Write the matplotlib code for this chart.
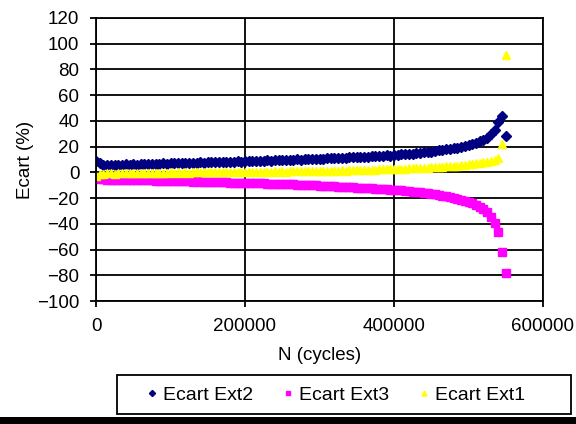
import numpy as np
import matplotlib.pyplot as plt
from matplotlib.patches import Rectangle

plt.rcParams['font.family'] = ['Liberation Sans', 'DejaVu Sans']

# cycles
n_cycles = [0, 5000, 10000, 15000, 20000, 25000, 30000, 35000, 40000, 45000,
            50000, 55000, 60000, 65000, 70000, 75000, 80000, 85000, 90000, 95000,
            100000, 105000, 110000, 115000, 120000, 125000, 130000, 135000, 140000, 145000,
            150000, 155000, 160000, 165000, 170000, 175000, 180000, 185000, 190000, 195000,
            200000, 205000, 210000, 215000, 220000, 225000, 230000, 235000, 240000, 245000,
            250000, 255000, 260000, 265000, 270000, 275000, 280000, 285000, 290000, 295000,
            300000, 305000, 310000, 315000, 320000, 325000, 330000, 335000, 340000, 345000,
            350000, 355000, 360000, 365000, 370000, 375000, 380000, 385000, 390000, 395000,
            400000, 405000, 410000, 415000, 420000, 425000, 430000, 435000, 440000, 445000,
            450000, 455000, 460000, 465000, 470000, 475000, 480000, 485000, 490000, 495000,
            500000, 505000, 510000, 515000, 520000, 525000, 530000, 535000, 540000, 545000,
            550000]

ecart_ext2 = [8.5, 7.0, 6.0, 5.5, 5.8, 5.5, 6.0, 5.8, 6.2, 6.0,
              6.3, 6.1, 6.5, 6.3, 6.6, 6.5, 6.8, 6.6, 7.0, 6.8,
              7.1, 7.0, 7.3, 7.1, 7.4, 7.3, 7.6, 7.4, 7.8, 7.6,
              7.9, 7.8, 8.1, 7.9, 8.2, 8.1, 8.4, 8.2, 8.5, 8.4,
              8.7, 8.6, 8.9, 8.8, 9.1, 9.0, 9.3, 9.2, 9.5, 9.4,
              9.7, 9.6, 9.9, 9.8, 10.1, 10.0, 10.3, 10.2, 10.5, 10.4,
              10.7, 10.6, 10.9, 10.8, 11.2, 11.1, 11.5, 11.4, 11.8, 11.7,
              12.0, 11.9, 12.3, 12.2, 12.6, 12.5, 12.9, 12.8, 13.2, 13.1,
              13.5, 13.5, 13.9, 14.0, 14.4, 14.5, 14.9, 15.1, 15.5, 15.8,
              16.2, 16.5, 17.0, 17.3, 17.8, 18.2, 18.8, 19.3, 20.0, 20.6,
              21.4, 22.2, 23.2, 24.3, 25.5, 27.0, 29.5, 33.0, 39.0, 43.5,
              28.5]

ecart_ext3 = [-4.0, -5.0, -5.5, -5.6, -5.8, -5.7, -5.9, -5.8, -6.0, -5.9,
              -6.1, -6.0, -6.2, -6.1, -6.3, -6.3, -6.5, -6.4, -6.6, -6.5,
              -6.7, -6.7, -6.9, -6.8, -7.0, -7.0, -7.2, -7.1, -7.3, -7.3,
              -7.5, -7.4, -7.6, -7.6, -7.8, -7.7, -7.9, -7.9, -8.1, -8.0,
              -8.2, -8.2, -8.4, -8.4, -8.6, -8.6, -8.8, -8.8, -9.0, -9.0,
              -9.2, -9.2, -9.4, -9.4, -9.6, -9.6, -9.8, -9.9, -10.1, -10.1,
              -10.3, -10.4, -10.6, -10.7, -10.9, -11.0, -11.2, -11.3, -11.5, -11.6,
              -11.8, -11.9, -12.1, -12.2, -12.4, -12.6, -12.8, -13.0, -13.2, -13.4,
              -13.6, -13.8, -14.0, -14.3, -14.6, -14.9, -15.2, -15.5, -15.9, -16.3,
              -16.7, -17.1, -17.6, -18.1, -18.6, -19.2, -19.8, -20.5, -21.2, -22.0,
              -22.9, -24.0, -25.2, -26.6, -28.4, -31.0, -34.5, -39.0, -46.0, -62.0,
              -78.5]

ecart_ext1 = [-3.0, -1.5, -1.0, -0.8, -0.6, -0.9, -0.5, -0.8, -0.4, -0.7,
              -0.4, -0.6, -0.3, -0.6, -0.3, -0.5, -0.2, -0.5, -0.2, -0.4,
              -0.1, -0.3, 0.0, -0.2, 0.0, -0.2, 0.1, -0.1, 0.1, 0.0,
              0.2, 0.0, 0.2, 0.1, 0.3, 0.1, 0.3, 0.2, 0.4, 0.2,
              0.4, 0.3, 0.5, 0.3, 0.5, 0.4, 0.6, 0.4, 0.7, 0.5,
              0.7, 0.6, 0.8, 0.7, 0.9, 0.7, 1.0, 0.8, 1.1, 0.9,
              1.2, 1.0, 1.3, 1.1, 1.4, 1.3, 1.6, 1.4, 1.7, 1.6,
              1.9, 1.7, 2.0, 1.9, 2.2, 2.1, 2.4, 2.3, 2.6, 2.5,
              2.8, 2.7, 3.0, 2.9, 3.2, 3.1, 3.4, 3.4, 3.7, 3.7,
              4.0, 4.0, 4.3, 4.4, 4.7, 4.8, 5.1, 5.3, 5.6, 5.9,
              6.2, 6.5, 6.9, 7.3, 7.8, 8.3, 9.0, 9.8, 11.5, 22.0,
              91.5]

W, H = 576, 424
fig = plt.figure(figsize=(W / 100, H / 100), dpi=100)
ax = fig.add_axes([96 / W, 1 - 301 / H, (543 - 96) / W, (301 - 18) / H])

ax.plot(n_cycles, ecart_ext2, linestyle='none', marker='D', markersize=5.2,
        color='#000080', label='Ecart Ext2')
ax.plot(n_cycles, ecart_ext3, linestyle='none', marker='s', markersize=5.2,
        color='#FF00FF', label='Ecart Ext3')
ax.plot(n_cycles, ecart_ext1, linestyle='none', marker='^', markersize=6,
        color='#FFFF00', label='Ecart Ext1')

ax.set_xlim(0, 600000)
ax.set_ylim(-100, 120)
ax.set_xticks([0, 200000, 400000, 600000])
ax.set_yticks(np.arange(-100, 121, 20))
ax.grid(True, color='black', linewidth=1.3)
ax.set_axisbelow(True)
for s in ax.spines.values():
    s.set_linewidth(1.3)
ax.tick_params(direction='out', length=4, width=1.3, labelsize=13.5)
ax.tick_params(axis='x', pad=8)
ax.tick_params(axis='y', pad=8)

ax.set_xlabel('N (cycles)', fontsize=13.5, labelpad=9)
ax.set_ylabel('Ecart (%)', fontsize=13.5, labelpad=2)

# legend box
fig.patches.append(Rectangle((117 / W, 1 - 414 / H), (571 - 117) / W, (414 - 375) / H,
                             transform=fig.transFigure, fill=False,
                             edgecolor='black', linewidth=1.3))
fig.legend(loc='center left', bbox_to_anchor=(128 / W, 1 - 395 / H), ncol=3,
           frameon=False, fontsize=14, handlelength=0.7, handletextpad=0.2,
           columnspacing=1.45, markerscale=0.6)

# black strip at bottom
fig.patches.append(Rectangle((0, 0), 1, 7 / H, transform=fig.transFigure,
                             facecolor='black', edgecolor='none'))

fig.savefig('out.png', dpi=100)
